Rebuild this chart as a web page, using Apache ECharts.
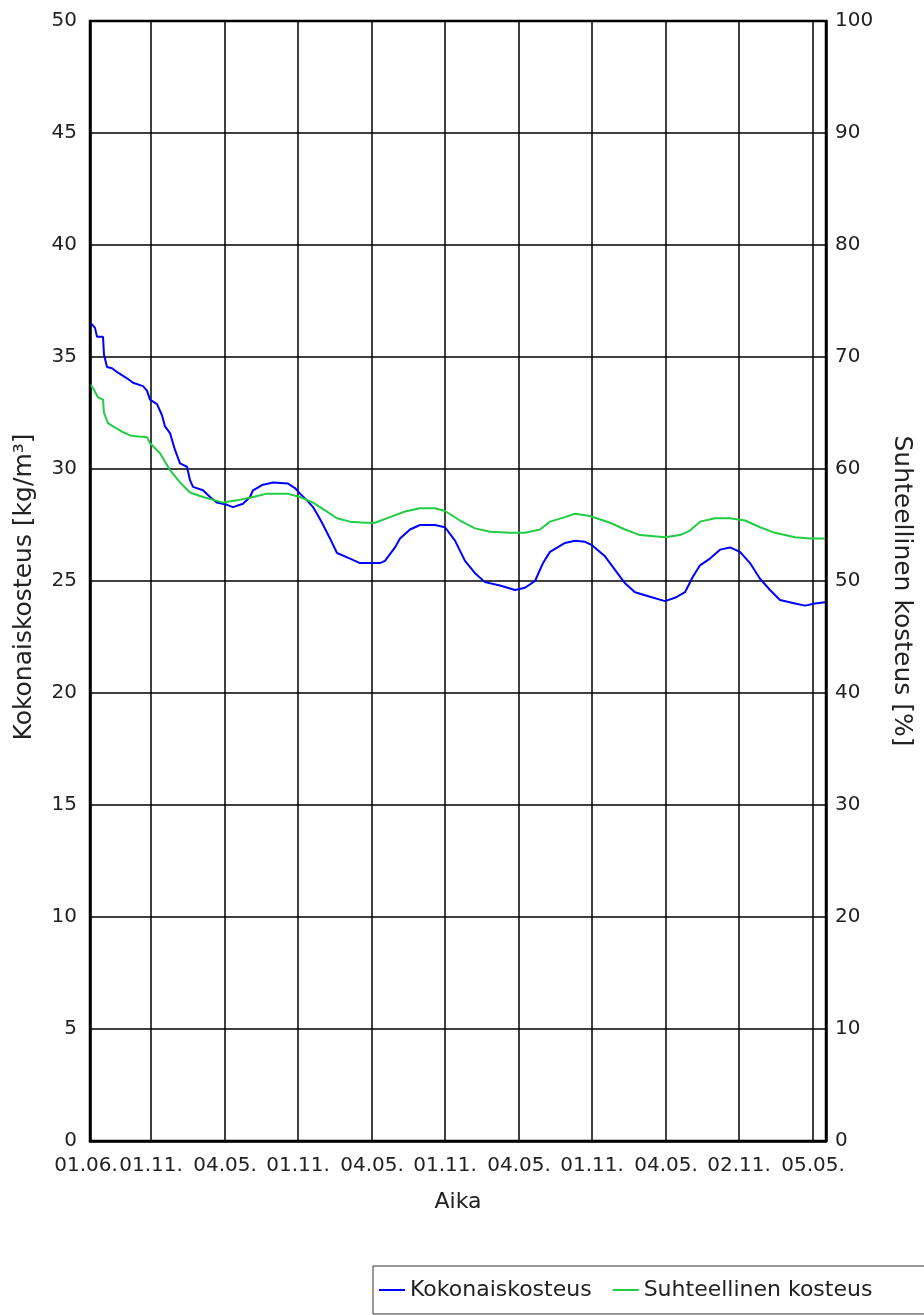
<!DOCTYPE html>
<html>
<head>
<meta charset="utf-8">
<script src="https://cdn.jsdelivr.net/npm/echarts@6/dist/echarts.min.js"></script>
<style>
html,body{margin:0;padding:0;background:#fff;}
#chart{width:924px;height:1315px;}
</style>
</head>
<body>
<div id="chart"></div>
<script>
// x values are days since 01.06. of the first year
const tickDays = [0, 152.5, 337.5, 520, 705, 887.5, 1072.5, 1255, 1440, 1622.5, 1807.5];
const tickLabels = ["01.06.", "01.11.", "04.05.", "01.11.", "04.05.", "01.11.", "04.05.", "01.11.", "04.05.", "02.11.", "05.05."];

const totalDays = [2.5, 12.5, 17.5, 32.5, 35, 42.5, 55, 70, 92.5, 107.5, 132.5, 142.5, 150, 167.5, 180, 187.5, 200, 212.5, 225, 242.5, 250, 257.5, 282.5, 300, 317.5, 342.5, 357.5, 382.5, 400, 407.5, 432.5, 457.5, 495, 512.5, 525, 542.5, 557.5, 567.5, 580, 600, 617.5, 650, 675, 725, 737.5, 762.5, 775, 800, 825, 862.5, 887.5, 912.5, 937.5, 962.5, 987.5, 1025, 1062.5, 1087.5, 1112.5, 1132.5, 1150, 1187.5, 1212.5, 1237.5, 1255, 1287.5, 1312.5, 1337.5, 1362.5, 1400, 1437.5, 1462.5, 1487.5, 1507.5, 1525, 1550, 1575, 1600, 1625, 1650, 1675, 1700, 1725, 1762.5, 1787.5, 1812.5, 1837.5];
const totalValues = [36.5, 36.3, 35.9, 35.9, 35.1, 34.55, 34.5, 34.3, 34.05, 33.85, 33.7, 33.5, 33.1, 32.9, 32.4, 31.9, 31.6, 30.85, 30.25, 30.1, 29.5, 29.2, 29.05, 28.75, 28.5, 28.4, 28.3, 28.45, 28.75, 29.05, 29.3, 29.4, 29.35, 29.15, 28.9, 28.6, 28.3, 28.0, 27.6, 26.9, 26.25, 26.0, 25.8, 25.8, 25.9, 26.5, 26.9, 27.3, 27.5, 27.5, 27.4, 26.8, 25.9, 25.35, 24.95, 24.8, 24.6, 24.7, 25.0, 25.8, 26.3, 26.7, 26.8, 26.75, 26.6, 26.1, 25.5, 24.9, 24.5, 24.3, 24.1, 24.25, 24.5, 25.2, 25.7, 26.0, 26.4, 26.5, 26.3, 25.8, 25.1, 24.6, 24.15, 24.0, 23.9, 24.0, 24.05];

const relDays = [2.5, 7.5, 20, 32.5, 35, 45, 57.5, 82.5, 100, 120, 142.5, 150, 175, 200, 225, 250, 282.5, 332.5, 367.5, 407.5, 442.5, 492.5, 525, 557.5, 592.5, 617.5, 650, 687.5, 712.5, 750, 787.5, 825, 862.5, 887.5, 925, 962.5, 1000, 1050, 1087.5, 1125, 1150, 1187.5, 1212.5, 1250, 1300, 1337.5, 1375, 1437.5, 1475, 1500, 1525, 1562.5, 1600, 1637.5, 1675, 1712.5, 1762.5, 1800, 1837.5];
const relValues = [67.5, 67.2, 66.4, 66.2, 65.0, 64.1, 63.8, 63.3, 63.0, 62.9, 62.85, 62.3, 61.4, 59.9, 58.8, 57.9, 57.5, 57.0, 57.2, 57.5, 57.8, 57.8, 57.5, 57.0, 56.2, 55.6, 55.3, 55.2, 55.2, 55.7, 56.2, 56.5, 56.5, 56.25, 55.4, 54.7, 54.4, 54.3, 54.3, 54.6, 55.3, 55.7, 56.0, 55.8, 55.2, 54.6, 54.1, 53.9, 54.1, 54.5, 55.3, 55.6, 55.6, 55.4, 54.8, 54.3, 53.9, 53.8, 53.8];

const pair = (xs, ys) => xs.map((x, i) => [x, ys[i]]);
const FONT = '"DejaVu Sans", Verdana, sans-serif';
const TXT = '#222';

const chart = echarts.init(document.getElementById('chart'));
chart.setOption({
  animation: false,
  backgroundColor: '#fff',
  textStyle: { fontFamily: FONT },
  grid: { left: 90, top: 21, right: 98, bottom: 174, outerBoundsMode: 'none', containLabel: false,
          show: true, borderColor: '#000', borderWidth: 2.5, backgroundColor: 'transparent' },
  xAxis: {
    type: 'value', min: 0, max: 1840,
    name: 'Aika', nameLocation: 'middle', nameGap: 50,
    nameTextStyle: { fontSize: 22, color: TXT, fontFamily: FONT },
    axisLine: { show: true, lineStyle: { color: '#000', width: 2.5 } },
    axisTick: { show: false, customValues: tickDays },
    axisLabel: {
      customValues: tickDays, margin: 15, fontSize: 20, color: TXT, fontFamily: FONT,
      formatter: (v) => {
        const i = tickDays.indexOf(v);
        if (i < 0) return '';
        return i === 0 ? '{first|' + tickLabels[i] + '}' : tickLabels[i];
      },
      rich: { first: { fontSize: 20, color: TXT, fontFamily: FONT, padding: [0, 8, 0, 0] } }
    },
    splitLine: { show: true, lineStyle: { color: '#000', width: 1.5 } }
  },
  yAxis: [
    {
      type: 'value', min: 0, max: 50, interval: 5, position: 'left',
      name: 'Kokonaiskosteus [kg/m³]', nameLocation: 'middle', nameGap: 53, nameRotate: 90,
      nameTextStyle: { fontSize: 25, color: TXT, fontFamily: FONT, padding: [0, 12, 0, 0] },
      axisLine: { show: true, lineStyle: { color: '#000', width: 2.5 } },
      axisTick: { show: false },
      axisLabel: { margin: 13, fontSize: 20, color: TXT, fontFamily: FONT },
      splitLine: { show: true, lineStyle: { color: '#000', width: 1.5 } }
    },
    {
      type: 'value', min: 0, max: 100, interval: 10, position: 'right',
      name: 'Suhteellinen kosteus [%]', nameLocation: 'middle', nameGap: 63, nameRotate: -90,
      nameTextStyle: { fontSize: 25, color: TXT, fontFamily: FONT, padding: [0, 0, 0, 20] },
      axisLine: { show: true, lineStyle: { color: '#000', width: 2.5 } },
      axisTick: { show: false },
      axisLabel: { margin: 9, fontSize: 20, color: TXT, fontFamily: FONT },
      splitLine: { show: false }
    }
  ],
  legend: {
    left: 373, top: 1266, width: 560,
    padding: [13, 56, 13, 6],
    itemGap: 21, itemWidth: 26, itemHeight: 2, icon: 'rect',
    borderColor: '#333', borderWidth: 1,
    textStyle: { fontSize: 22, color: TXT, fontFamily: FONT },
    data: ['Kokonaiskosteus', 'Suhteellinen kosteus']
  },
  series: [
    {
      name: 'Kokonaiskosteus', type: 'line', yAxisIndex: 0, symbol: 'none',
      lineStyle: { color: '#0000ff', width: 2 }, itemStyle: { color: '#0000ff' },
      data: pair(totalDays, totalValues)
    },
    {
      name: 'Suhteellinen kosteus', type: 'line', yAxisIndex: 1, symbol: 'none',
      lineStyle: { color: '#22cc44', width: 2 }, itemStyle: { color: '#22cc44' },
      data: pair(relDays, relValues)
    }
  ]
});
</script>
</body>
</html>
